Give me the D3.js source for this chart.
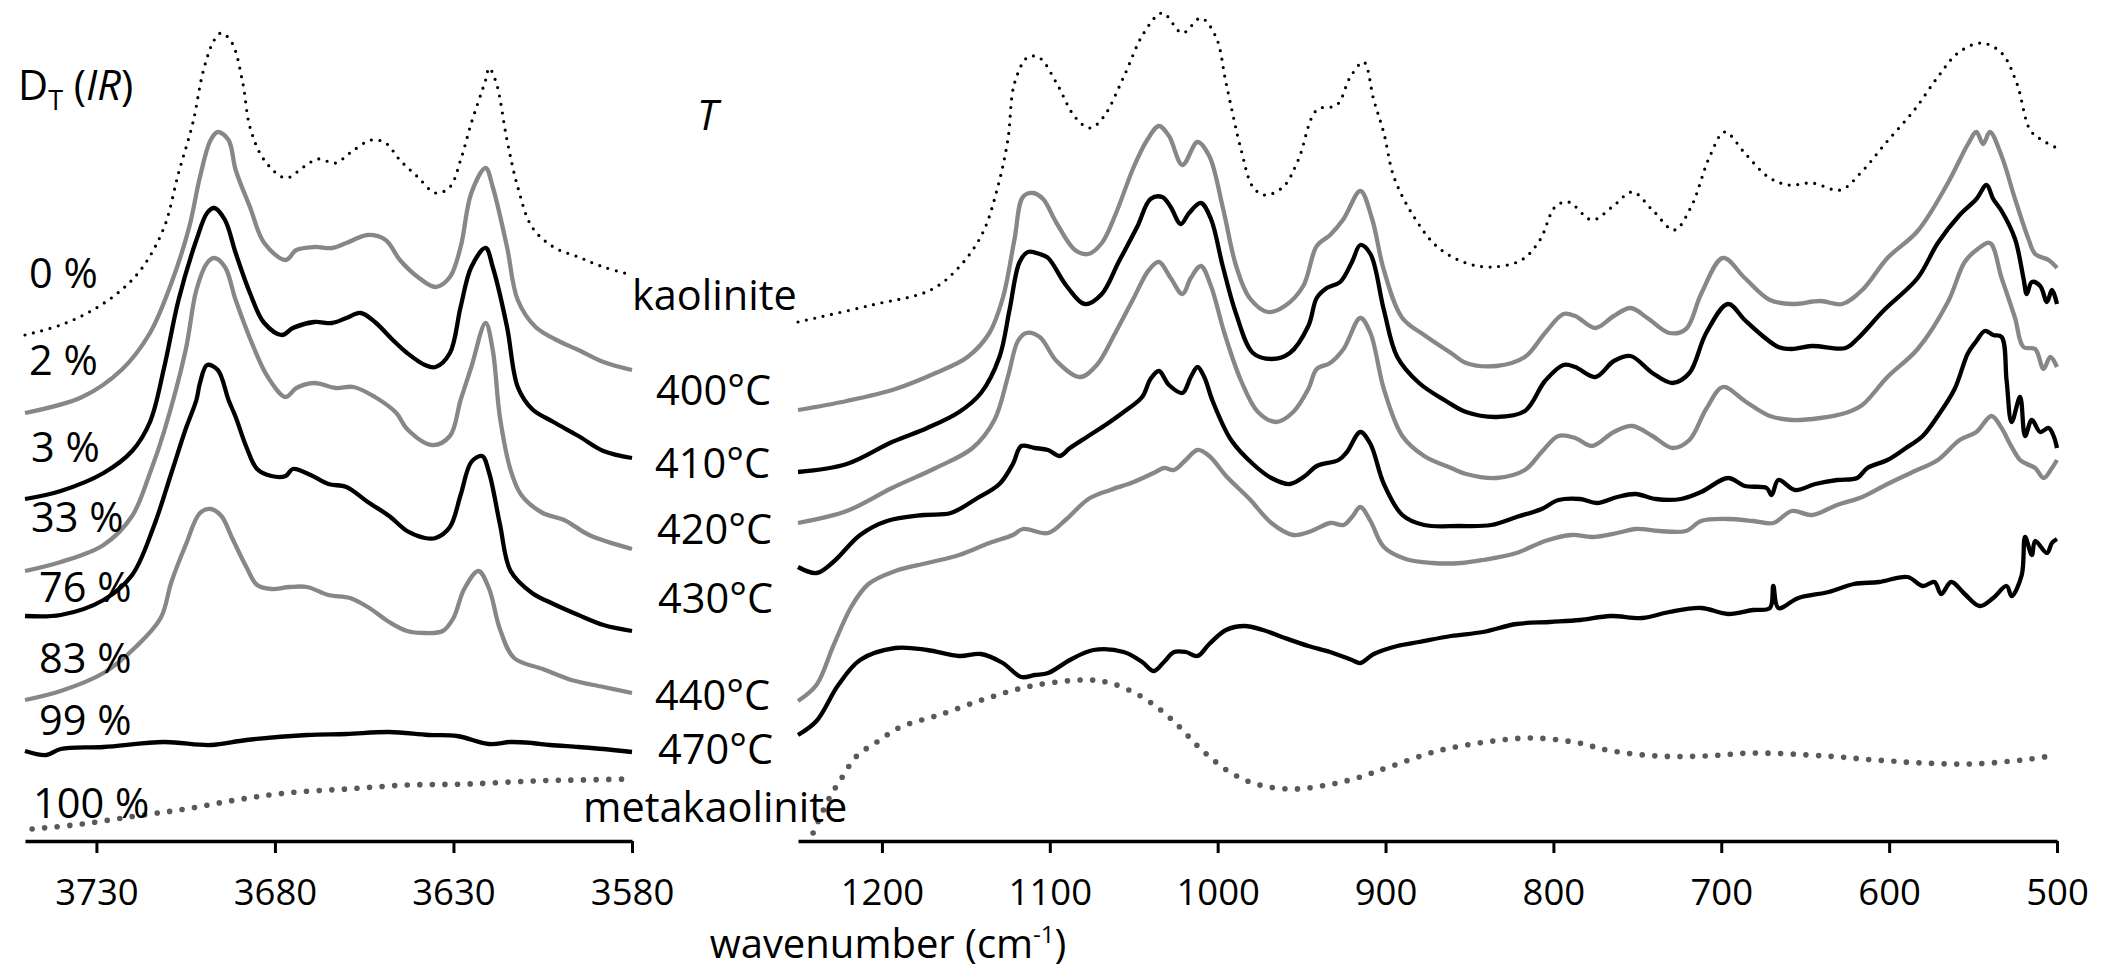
<!DOCTYPE html>
<html>
<head>
<meta charset="utf-8">
<script src="https://cdn.jsdelivr.net/npm/d3@7"></script>
<style>
  html, body { margin: 0; padding: 0; background: #fff; }
  svg { display: block; }
  text { font-family: "Open Sans", sans-serif; fill: #000; }
</style>
</head>
<body>
<svg id="chart" width="2101" height="970"></svg>
<script>
// ---------- tick labels ----------
const ohTicks = [3730, 3680, 3630, 3580];
const fpTicks = [1200, 1100, 1000, 900, 800, 700, 600, 500];

// ---------- curve labels ----------
const dtLabels = ["0 %", "2 %", "3 %", "33 %", "76 %", "83 %", "99 %", "100 %"];
const tempLabels = ["kaolinite", "400°C", "410°C", "420°C", "430°C", "440°C", "470°C", "metakaolinite"];

// ---------- OH-stretching region: [wavenumber, absorbance (a.u., stacked)] ----------
const ohKaolinite = [[3750,506],[3740,516],[3731,531],[3723,551],[3717,574],[3711,614],[3707,668],[3703,718],[3700,771],[3697,801],[3695,808],[3692,798],[3689,758],[3687,714],[3683,681],[3677,663],[3672,674],[3668,682],[3663,678],[3659,688],[3653,701],[3649,698],[3645,681],[3640,664],[3635,648],[3631,654],[3628,681],[3625,718],[3621,761],[3620,773],[3618,758],[3615,701],[3612,654],[3608,614],[3602,594],[3595,584],[3588,574],[3580,566]];
const oh2 = [[3750,428],[3734,444],[3723,471],[3715,508],[3709,558],[3704,614],[3701,664],[3698,701],[3696,709],[3693,701],[3691,671],[3687,634],[3683,598],[3677,581],[3674,591],[3669,594],[3664,593],[3660,598],[3654,606],[3649,601],[3645,581],[3640,564],[3635,554],[3631,564],[3628,594],[3625,648],[3621,673],[3619,654],[3615,594],[3612,541],[3607,514],[3600,499],[3595,491],[3588,479],[3580,471]];
const oh3 = [[3750,342],[3740,350],[3728,368],[3720,390],[3715,419],[3711,474],[3707,541],[3702,601],[3699,628],[3697,633],[3694,621],[3691,588],[3687,548],[3683,518],[3678,506],[3675,513],[3669,519],[3664,518],[3660,523],[3656,528],[3652,519],[3647,501],[3643,488],[3638,476],[3635,474],[3631,488],[3628,534],[3625,574],[3621,593],[3619,574],[3615,514],[3612,454],[3608,432],[3602,419],[3595,405],[3588,390],[3580,383]];
const oh33 = [[3750,270],[3740,279],[3728,296],[3720,325],[3715,368],[3711,410],[3705,491],[3702,551],[3699,578],[3697,583],[3694,574],[3691,541],[3686,494],[3682,464],[3677,444],[3674,453],[3669,458],[3663,453],[3658,454],[3652,444],[3646,428],[3643,412],[3636,396],[3631,405],[3628,441],[3625,474],[3621,518],[3619,491],[3617,424],[3614,371],[3611,346],[3605,328],[3599,321],[3592,306],[3580,292]];
const oh76 = [[3750,225],[3740,226],[3728,241],[3720,266],[3714,314],[3709,368],[3705,412],[3702,441],[3701,458],[3699,476],[3696,471],[3693,441],[3691,424],[3688,394],[3685,372],[3681,365],[3677,365],[3675,372],[3670,366],[3665,357],[3660,354],[3654,339],[3648,325],[3643,310],[3638,303],[3635,303],[3631,314],[3628,346],[3625,379],[3622,385],[3620,368],[3617,317],[3614,270],[3608,248],[3602,237],[3595,226],[3588,216],[3580,210]];
const oh83 = [[3750,141],[3740,150],[3728,168],[3719,194],[3712,223],[3709,259],[3705,296],[3701,328],[3698,332],[3695,325],[3692,303],[3688,274],[3685,256],[3681,252],[3676,254],[3671,254],[3665,246],[3659,243],[3654,234],[3648,219],[3643,210],[3638,208],[3633,210],[3630,223],[3627,252],[3623,270],[3620,252],[3617,212],[3613,183],[3605,172],[3597,161],[3588,154],[3580,148]];
const oh99 = [[3750,90],[3744,86],[3740,92],[3728,94],[3711,99],[3698,96],[3688,101],[3671,106],[3660,107],[3648,109],[3637,106],[3629,105],[3620,97],[3614,99],[3608,98],[3603,96],[3595,94],[3588,92],[3580,89]];
const oh100 = [[3748,12],[3734,17],[3719,25],[3705,32],[3691,41],[3677,48],[3660,52],[3643,56],[3626,57],[3608,60],[3595,61],[3581,62]];

// ---------- lattice region: [wavenumber, absorbance (a.u., stacked)] ----------
const fpKaolinite = [[1250,519],[1206,536],[1171,551],[1154,574],[1140,608],[1131,654],[1125,701],[1121,758],[1113,784],[1106,783],[1096,758],[1085,724],[1076,713],[1068,724],[1056,764],[1044,808],[1033,828],[1021,808],[1010,823],[1001,804],[995,758],[986,691],[979,654],[972,646],[961,654],[952,681],[941,731],[929,736],[921,764],[913,779],[907,741],[901,708],[895,664],[883,624],[869,594],[852,578],[837,574],[819,581],[808,601],[799,634],[791,639],[777,621],[765,634],[753,649],[741,631],[728,611],[718,634],[707,684],[698,709],[686,688],[672,664],[660,656],[646,658],[629,651],[617,668],[602,698],[585,731],[571,764],[559,788],[545,798],[533,788],[524,758],[516,711],[509,701],[500,693]];
const fp400 = [[1250,431],[1221,440],[1192,452],[1168,468],[1149,484],[1136,508],[1128,543],[1121,602],[1116,644],[1110,648],[1104,642],[1096,618],[1085,591],[1077,587],[1069,598],[1061,626],[1050,674],[1042,701],[1035,715],[1029,705],[1021,676],[1012,699],[1005,685],[997,634],[989,575],[981,543],[970,529],[960,535],[949,555],[941,595],[933,606],[925,622],[915,650],[908,622],[901,571],[890,523],[877,506],[861,488],[852,478],[834,475],[817,484],[805,508],[794,527],[787,525],[775,513],[764,525],[754,533],[744,523],[731,508],[721,512],[712,547],[699,583],[686,563],[671,541],[658,537],[641,540],[628,537],[616,551],[601,583],[583,610],[565,658],[553,697],[548,709],[544,697],[540,709],[533,685],[525,642],[517,602],[513,587],[505,581],[500,573]];
const fp410 = [[1250,369],[1221,377],[1194,399],[1173,413],[1154,429],[1141,448],[1130,484],[1124,531],[1118,579],[1113,589],[1106,587],[1101,583],[1090,555],[1079,537],[1069,547],[1059,579],[1048,614],[1040,642],[1033,644],[1028,634],[1022,617],[1017,628],[1010,638],[1004,622],[997,575],[989,527],[979,488],[968,482],[957,488],[946,515],[941,543],[935,553],[927,559],[920,579],[915,596],[909,587],[901,531],[893,484],[880,458],[864,440],[852,429],[834,424],[817,430],[805,460],[794,476],[787,474],[775,464],[764,480],[754,485],[741,468],[729,458],[719,468],[709,508],[696,537],[686,521],[676,506],[666,494],[658,492],[646,495],[626,493],[619,502],[603,531],[583,563],[571,598],[558,626],[548,642],[542,656],[538,642],[533,630],[525,602],[520,563],[518,547],[515,559],[510,555],[506,539],[503,551],[500,537]];
const fp420 = [[1250,318],[1221,330],[1194,353],[1168,373],[1146,393],[1133,421],[1125,464],[1119,500],[1114,508],[1106,504],[1096,480],[1082,464],[1072,476],[1061,508],[1050,543],[1041,571],[1035,579],[1028,563],[1021,547],[1016,563],[1010,575],[1004,555],[996,508],[986,460],[976,429],[965,419],[955,429],[946,452],[941,472],[933,478],[925,492],[915,523],[909,508],[901,452],[890,405],[877,385],[861,373],[852,367],[834,363],[817,371],[807,389],[797,405],[787,403],[777,395],[764,409],[753,415],[741,405],[729,393],[719,401],[709,432],[699,454],[686,440],[671,425],[658,421],[641,423],[626,428],[616,436],[601,464],[583,492],[565,539],[555,579],[548,591],[540,598],[533,563],[525,523],[520,494],[513,492],[508,472],[504,484],[500,474]];
const fp430 = [[1250,274],[1239,268],[1229,279],[1213,306],[1197,320],[1175,326],[1159,328],[1144,342],[1130,357],[1122,377],[1117,395],[1109,393],[1101,391],[1094,385],[1088,393],[1077,405],[1066,417],[1056,429],[1045,444],[1040,462],[1035,470],[1029,456],[1021,448],[1016,464],[1012,474],[1008,464],[1003,440],[992,401],[979,377],[968,363],[957,357],[948,365],[941,375],[928,381],[923,389],[915,409],[909,397],[901,357],[890,326],[877,316],[856,315],[837,316],[822,324],[807,332],[797,341],[784,342],[774,338],[762,344],[751,347],[739,342],[724,342],[712,349],[696,363],[686,355],[673,353],[670,346],[666,361],[656,351],[644,357],[631,361],[619,363],[613,373],[601,381],[590,393],[580,405],[571,425],[561,452],[553,488],[548,500],[543,510],[538,506],[533,504],[530,460],[527,419],[522,444],[519,405],[515,421],[510,409],[505,413],[502,405],[500,393]];
const fp440 = [[1250,140],[1239,156],[1229,195],[1218,235],[1208,257],[1192,270],[1173,278],[1154,286],[1136,298],[1122,306],[1116,312],[1101,308],[1090,322],[1077,342],[1064,351],[1050,359],[1037,369],[1032,373],[1026,371],[1019,381],[1012,391],[1005,385],[995,365],[981,342],[968,318],[955,306],[944,310],[933,318],[925,316],[920,324],[915,334],[909,320],[901,294],[888,282],[872,278],[855,278],[842,281],[822,288],[805,300],[789,306],[777,304],[762,308],[751,312],[737,310],[721,310],[712,320],[696,322],[681,320],[669,318],[658,330],[646,326],[631,336],[616,344],[601,357],[586,369],[571,381],[558,401],[548,409],[539,425],[533,413],[528,397],[522,381],[518,377],[513,373],[508,363],[503,373],[500,381]];
const fp470 = [[1250,106],[1239,120],[1226,156],[1213,181],[1192,193],[1173,191],[1154,185],[1141,187],[1128,178],[1117,164],[1109,166],[1101,168],[1088,181],[1074,191],[1056,189],[1045,179],[1038,170],[1032,179],[1026,189],[1019,189],[1012,185],[1005,197],[995,211],[984,215],[973,211],[960,203],[946,195],[933,189],[920,181],[915,178],[907,187],[893,195],[880,199],[861,205],[842,209],[822,217],[802,219],[784,221],[766,225],[747,223],[731,229],[712,233],[696,227],[681,231],[671,233],[669,255],[666,233],[654,243],[636,249],[621,257],[606,259],[589,264],[580,255],[573,259],[569,247],[563,259],[555,247],[546,235],[538,243],[530,255],[527,245],[521,266],[519,304],[515,286],[513,300],[506,288],[503,298],[500,302]];
const fpMetakaolinite = [[1241,8],[1232,41],[1224,63],[1215,85],[1203,99],[1189,114],[1166,126],[1137,143],[1108,156],[1076,161],[1062,157],[1044,143],[1027,121],[1010,92],[992,68],[975,56],[955,52],[935,56],[917,63],[898,74],[869,90],[840,99],[814,103],[788,99],[765,90],[738,85],[710,85],[681,88],[638,85],[608,81],[580,78],[551,77],[521,81],[500,86]];

// ---------- line styles ----------
const styles = {
  kdot:  { stroke: "#000",    width: 3.2, dash: "0 8.6",  cap: "round" },
  mdot:  { stroke: "#595959", width: 5.6, dash: "0 12.6", cap: "round" },
  gray:  { stroke: "#878787", width: 4.3, dash: null,     cap: "butt" },
  black: { stroke: "#000",    width: 4.3, dash: null,     cap: "butt" }
};

const ohSeries = [
  { data: ohKaolinite, style: "kdot" }, { data: oh2, style: "gray" },
  { data: oh3, style: "black" },        { data: oh33, style: "gray" },
  { data: oh76, style: "black" },       { data: oh83, style: "gray" },
  { data: oh99, style: "black" },       { data: oh100, style: "mdot" }
];
const fpSeries = [
  { data: fpKaolinite, style: "kdot" }, { data: fp400, style: "gray" },
  { data: fp410, style: "black" },      { data: fp420, style: "gray" },
  { data: fp430, style: "black" },      { data: fp440, style: "gray" },
  { data: fp470, style: "black" },      { data: fpMetakaolinite, style: "mdot" }
];

// ---------- layout ----------
const baseY = 841;
const xOH = d3.scaleLinear().domain([3750, 3580]).range([25, 632]);
const xFP = d3.scaleLinear().domain([1250, 500]).range([798, 2057]);
const yA  = d3.scaleLinear().domain([0, 841]).range([baseY, 0]);

// label anchors in absorbance units (baseline level) and horizontal offsets
const dtLabelLevel = [553, 466, 379, 309, 239, 168, 106, 23];
const dtLabelX     = [29, 29, 31, 31, 39, 39, 39, 33];
const tempLabelLevel = [531, 436, 363, 297, 228, 131, 77, 19];
const tempLabelX     = [632, 656, 655, 657, 658, 655, 658, 583];

const svg = d3.select("#chart");
svg.append("rect").attr("width", 2101).attr("height", 970).attr("fill", "#fff");

function drawSeries(series, x) {
  const line = d3.line()
    .x(d => x(d[0]))
    .y(d => yA(d[1]))
    .curve(d3.curveCatmullRom.alpha(0.5));
  svg.append("g").selectAll("path").data(series).join("path")
    .attr("d", s => line(s.data))
    .attr("fill", "none")
    .attr("stroke", s => styles[s.style].stroke)
    .attr("stroke-width", s => styles[s.style].width)
    .attr("stroke-dasharray", s => styles[s.style].dash)
    .attr("stroke-linecap", s => styles[s.style].cap)
    .attr("stroke-linejoin", "round");
}
drawSeries(ohSeries, xOH);
drawSeries(fpSeries, xFP);

// ---------- axes ----------
function drawAxis(x, ticks) {
  const g = svg.append("g")
    .attr("transform", `translate(0,${baseY})`)
    .call(d3.axisBottom(x).tickValues(ticks).tickFormat(d3.format("d"))
      .tickSize(12).tickSizeOuter(0).tickPadding(26));
  g.select(".domain").attr("stroke", "#000").attr("stroke-width", 3.4);
  g.selectAll(".tick line").attr("stroke", "#000").attr("stroke-width", 3);
  g.selectAll(".tick text")
    .style("font-family", '"Open Sans", sans-serif')
    .style("font-size", "36.5px")
    .attr("fill", "#000");
}
drawAxis(xOH, ohTicks);
drawAxis(xFP, fpTicks);

// axis title
const title = svg.append("text")
  .attr("x", 888).attr("y", 958)
  .attr("text-anchor", "middle")
  .style("font-size", "40px");
title.append("tspan").text("wavenumber (cm");
title.append("tspan").attr("dy", -15).style("font-size", "24px").text("-1");
title.append("tspan").attr("dy", 15).text(")");

// ---------- curve labels ----------
svg.append("g").selectAll("text").data(dtLabels).join("text")
  .attr("x", (d, i) => dtLabelX[i])
  .attr("y", (d, i) => yA(dtLabelLevel[i]))
  .style("font-size", "41.5px")
  .text(d => d);

svg.append("g").selectAll("text").data(tempLabels).join("text")
  .attr("x", (d, i) => tempLabelX[i])
  .attr("y", (d, i) => yA(tempLabelLevel[i]))
  .style("font-size", "41.5px")
  .text(d => d);

// column headers
const dt = svg.append("text").attr("x", 18).attr("y", 100).style("font-size", "41.5px");
dt.append("tspan").text("D");
dt.append("tspan").attr("dy", 10).style("font-size", "27px").text("T");
dt.append("tspan").attr("dy", -10).text(" (");
dt.append("tspan").style("font-style", "italic").text("IR");
dt.append("tspan").text(")");

svg.append("text").attr("x", 697).attr("y", 130)
  .style("font-size", "41.5px").style("font-style", "italic").text("T");
</script>
</body>
</html>
